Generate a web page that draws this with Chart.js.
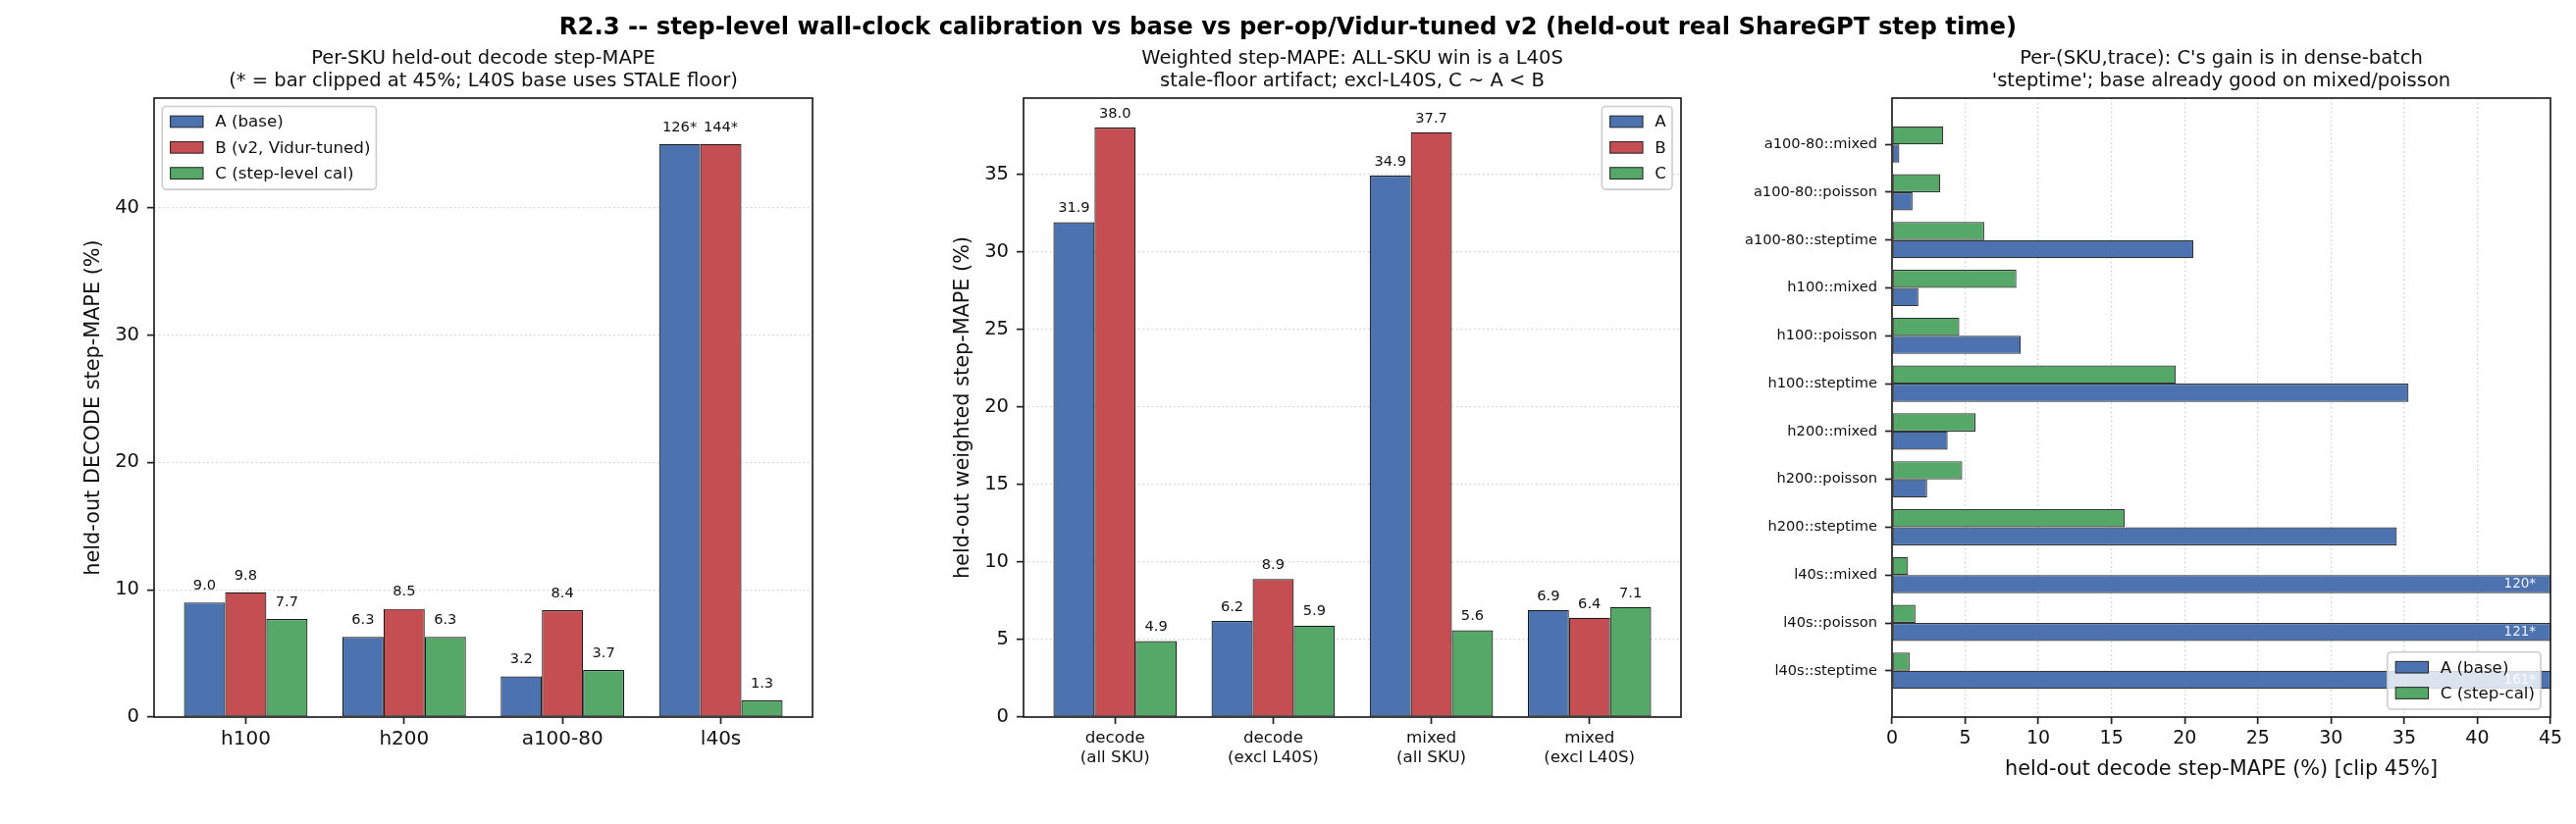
<!DOCTYPE html>
<html>
<head>
<meta charset="utf-8">
<script src="https://cdn.jsdelivr.net/npm/chart.js@4.4.1/dist/chart.umd.min.js"></script>
<style>
  html, body { margin: 0; padding: 0; background: #fff; }
  body { width: 2625px; height: 840px; position: relative; overflow: hidden; font-family: "DejaVu Sans", sans-serif; }
  #suptitle { position: absolute; left: 0; top: 12px; width: 2625px; text-align: center; font-weight: bold; font-size: 24.3px; line-height: 30px; color: #000; z-index: 2; }
  canvas { position: absolute; top: 0; }
</style>
</head>
<body>
<div id="suptitle">R2.3 -- step-level wall-clock calibration vs base vs per-op/Vidur-tuned v2 (held-out real ShareGPT step time)</div>
<canvas id="skuChart" width="875" height="840" style="left:0"></canvas>
<canvas id="weightedChart" width="875" height="840" style="left:875px"></canvas>
<canvas id="traceChart" width="875" height="840" style="left:1750px"></canvas>
<script>
// bars above this are drawn clipped and labelled "NNN*"
const CLIP = 45;

// Panel 1: per-SKU decode step-MAPE
const skuLabels = ['h100', 'h200', 'a100-80', 'l40s'];
const skuA = [9.0, 6.3, 3.2, 126];
const skuB = [9.8, 8.5, 8.4, 144];
const skuC = [7.7, 6.3, 3.7, 1.3];
const skuYTicks = [0, 10, 20, 30, 40];

// Panel 2: weighted step-MAPE
const wLabels = ['decode\n(all SKU)', 'decode\n(excl L40S)', 'mixed\n(all SKU)', 'mixed\n(excl L40S)'];
const wA = [31.9, 6.2, 34.9, 6.9];
const wB = [38.0, 8.9, 37.7, 6.4];
const wC = [4.9, 5.9, 5.6, 7.1];
const wYTicks = [0, 5, 10, 15, 20, 25, 30, 35];

// Panel 3: per (SKU, trace)
const traceLabels = [
  'a100-80::mixed', 'a100-80::poisson', 'a100-80::steptime',
  'h100::mixed', 'h100::poisson', 'h100::steptime',
  'h200::mixed', 'h200::poisson', 'h200::steptime',
  'l40s::mixed', 'l40s::poisson', 'l40s::steptime'
];
const traceA = [0.5, 1.4, 20.6, 1.8, 8.8, 35.3, 3.8, 2.4, 34.5, 120, 121, 161];
const traceC = [3.5, 3.3, 6.3, 8.5, 4.6, 19.4, 5.7, 4.8, 15.9, 1.1, 1.6, 1.2];
const traceXTicks = [0, 5, 10, 15, 20, 25, 30, 35, 40, 45];

const BLUE = '#4C72B0', RED = '#C44E52', GREEN = '#55A868';
const INK = '#111', SPINE = '#222', GRID = '#d3d3d3';

Chart.defaults.font.family = "'DejaVu Sans', sans-serif";
Chart.defaults.color = INK;

function vertPoints(vals) {
  return vals.map((v, i) => ({ x: i, y: Math.min(v, CLIP) }));
}
function horizPoints(vals) {
  return vals.map((v, i) => ({ x: Math.min(v, CLIP), y: i }));
}
function fixTicks(list) {
  return s => { s.ticks = list.map(v => ({ value: v })); };
}

// black frame round the plot area (all four spines)
const frame = {
  id: 'frame',
  afterDatasetsDraw(chart) {
    const { ctx, chartArea: a } = chart;
    ctx.save();
    ctx.strokeStyle = SPINE;
    ctx.lineWidth = 1.7;
    ctx.strokeRect(a.left, a.top, a.width, a.height);
    ctx.restore();
  }
};

// value labels over the bars; clipped bars get "NNN*"
const barLabels = {
  id: 'barLabels',
  afterDatasetsDraw(chart, args, opts) {
    const { ctx } = chart;
    ctx.save();
    ctx.font = opts.size + "px 'DejaVu Sans'";
    opts.raw.forEach((vals, di) => {
      const meta = chart.getDatasetMeta(di);
      meta.data.forEach((el, i) => {
        const v = vals[i];
        const clipped = v > CLIP;
        if (opts.inside) {
          if (!clipped) return;
          ctx.fillStyle = 'rgba(255,255,255,0.9)';
          ctx.textAlign = 'right';
          ctx.textBaseline = 'middle';
          ctx.fillText(Math.round(v) + '*', chart.scales.x.getPixelForValue(CLIP - 1), el.y);
        } else {
          ctx.fillStyle = INK;
          ctx.textAlign = 'center';
          ctx.textBaseline = 'middle';
          ctx.fillText(clipped ? Math.round(v) + '*' : v.toFixed(1), el.x, el.y - opts.gap);
        }
      });
    });
    ctx.restore();
  }
};

// matplotlib-style legend box inside the axes
const boxLegend = {
  id: 'boxLegend',
  afterDraw(chart, args, opts) {
    const { ctx, chartArea: a } = chart;
    const fs = 16.7, row = 26.3, hw = 33.4, hh = 11.7;
    ctx.save();
    ctx.font = fs + "px 'DejaVu Sans'";
    const tw = Math.max(...opts.items.map(it => ctx.measureText(it.label).width));
    const w = 8.3 + hw + 12.3 + tw + 6;
    const h = 32 + row * (opts.items.length - 1);
    let x = a.left + 8.3, y = a.top + 8.5;
    if (opts.corner === 'tr') x = a.right - 9 - w;
    if (opts.corner === 'br') { x = a.right - 10 - w; y = a.bottom - 8 - h; }
    ctx.beginPath();
    ctx.roundRect(x, y, w, h, 4);
    ctx.fillStyle = 'rgba(255,255,255,0.8)';
    ctx.fill();
    ctx.strokeStyle = '#cccccc';
    ctx.lineWidth = 1.6;
    ctx.stroke();
    opts.items.forEach((it, i) => {
      const cy = y + 15.5 + i * row;
      ctx.fillStyle = it.color;
      ctx.fillRect(x + 8.3, cy - hh / 2, hw, hh);
      ctx.strokeStyle = SPINE;
      ctx.lineWidth = 1;
      ctx.strokeRect(x + 8.3, cy - hh / 2, hw, hh);
      ctx.fillStyle = INK;
      ctx.textAlign = 'left';
      ctx.textBaseline = 'middle';
      ctx.fillText(it.label, x + 8.3 + hw + 12.3, cy + 1);
    });
    ctx.restore();
  }
};

function subTitle(lines) {
  return {
    display: true, text: lines, fullSize: false, color: INK,
    font: { size: 19.5, weight: 'normal', lineHeight: 1.2 },
    padding: { top: 48.3, bottom: 4.9 }
  };
}

function barSet(label, vals, color, edge) {
  return {
    label: label, data: vertPoints(vals), backgroundColor: color,
    borderColor: edge || '#1a1a1a', borderWidth: 1.2, borderSkipped: false, inflateAmount: 0,
    categoryPercentage: 0.78, barPercentage: 1.0
  };
}

function groupedOptions(cfg) {
  return {
    responsive: false, maintainAspectRatio: false, animation: false, events: [],
    layout: { padding: { left: 0, right: cfg.padRight, top: 0, bottom: 0 } },
    plugins: {
      legend: { display: false },
      tooltip: { enabled: false },
      title: subTitle(cfg.title),
      barLabels: { raw: cfg.raw, gap: cfg.gap, size: 14.6 },
      boxLegend: { corner: cfg.corner, items: cfg.legend }
    },
    scales: {
      x: {
        type: 'linear', min: -0.579, max: 3.579, offset: false,
        afterBuildTicks: fixTicks(cfg.labels.map((_, i) => i)),
        ticks: {
          callback: v => cfg.labels[v].split('\n'),
          font: { size: cfg.xFont }, color: INK, padding: cfg.xPad, maxRotation: 0, autoSkip: false
        },
        grid: { offset: false, drawOnChartArea: false, tickLength: 7, tickWidth: 1.7, tickColor: SPINE },
        border: { display: false },
        afterFit: s => { s.height = 109; }
      },
      y: {
        min: 0, max: cfg.yMax,
        afterBuildTicks: fixTicks(cfg.yTicks),
        ticks: { font: { size: 19.5 }, color: INK, padding: 8 },
        grid: { color: GRID, lineWidth: 1.3, tickLength: 7, tickWidth: 1.7, tickColor: SPINE, tickBorderDash: [] },
        border: { display: false, dash: [1.7, 2.8] },
        title: { display: true, text: cfg.yTitle, color: INK, font: { size: 20.8 }, padding: { top: cfg.yTitlePad } },
        afterFit: s => { s.width = cfg.yWidth; }
      }
    }
  };
}

new Chart(document.getElementById('skuChart'), {
  type: 'bar',
  data: {
    datasets: [
      barSet('A (base)', skuA, BLUE),
      barSet('B (v2, Vidur-tuned)', skuB, RED),
      barSet('C (step-level cal)', skuC, GREEN)
    ]
  },
  options: groupedOptions({
    title: ['Per-SKU held-out decode step-MAPE', '(* = bar clipped at 45%; L40S base uses STALE floor)'],
    labels: skuLabels, raw: [skuA, skuB, skuC], gap: 17,
    yMax: 48.6, yTicks: skuYTicks, yTitle: 'held-out DECODE step-MAPE (%)',
    yWidth: 157, yTitlePad: 83.5, padRight: 47, xFont: 20, xPad: 4,
    corner: 'tl',
    legend: [
      { label: 'A (base)', color: BLUE },
      { label: 'B (v2, Vidur-tuned)', color: RED },
      { label: 'C (step-level cal)', color: GREEN }
    ]
  }),
  plugins: [barLabels, frame, boxLegend]
});

new Chart(document.getElementById('weightedChart'), {
  type: 'bar',
  data: {
    datasets: [
      barSet('A', wA, BLUE),
      barSet('B', wB, RED),
      barSet('C', wC, GREEN)
    ]
  },
  options: groupedOptions({
    title: ['Weighted step-MAPE: ALL-SKU win is a L40S', 'stale-floor artifact; excl-L40S, C ~ A < B'],
    labels: wLabels, raw: [wA, wB, wC], gap: 14,
    yMax: 39.9, yTicks: wYTicks, yTitle: 'held-out weighted step-MAPE (%)',
    yWidth: 168, yTitlePad: 94, padRight: 37, xFont: 16.7, xPad: 5,
    corner: 'tr',
    legend: [
      { label: 'A', color: BLUE },
      { label: 'B', color: RED },
      { label: 'C', color: GREEN }
    ]
  }),
  plugins: [barLabels, frame, boxLegend]
});

// C listed first so it sits above A in each row
new Chart(document.getElementById('traceChart'), {
  type: 'bar',
  data: {
    datasets: [
      { label: 'C (step-cal)', data: horizPoints(traceC), backgroundColor: GREEN, borderColor: '#333',
        borderWidth: 1.2, borderSkipped: false, inflateAmount: 0, categoryPercentage: 0.76, barPercentage: 1.0 },
      { label: 'A (base)', data: horizPoints(traceA), backgroundColor: BLUE, borderColor: '#333',
        borderWidth: 1.2, borderSkipped: false, inflateAmount: 0, categoryPercentage: 0.76, barPercentage: 1.0 }
    ]
  },
  options: {
    indexAxis: 'y',
    responsive: false, maintainAspectRatio: false, animation: false, events: [],
    layout: { padding: { left: 0, right: 26, top: 0, bottom: 0 } },
    plugins: {
      legend: { display: false },
      tooltip: { enabled: false },
      title: subTitle(["Per-(SKU,trace): C's gain is in dense-batch", "'steptime'; base already good on mixed/poisson"]),
      barLabels: { raw: [traceC, traceA], inside: true, size: 13.5 },
      boxLegend: { corner: 'br', items: [{ label: 'A (base)', color: BLUE }, { label: 'C (step-cal)', color: GREEN }] }
    },
    scales: {
      x: {
        type: 'linear', min: 0, max: CLIP,
        afterBuildTicks: fixTicks(traceXTicks),
        ticks: { font: { size: 19 }, color: INK, padding: 4, maxRotation: 0 },
        grid: { color: GRID, lineWidth: 1.3, tickLength: 7, tickWidth: 1.7, tickColor: SPINE, tickBorderDash: [] },
        border: { display: false, dash: [1.7, 2.8] },
        title: { display: true, text: 'held-out decode step-MAPE (%) [clip 45%]', color: INK, font: { size: 20.8 }, padding: { bottom: 43 } },
        afterFit: s => { s.height = 109; }
      },
      y: {
        type: 'linear', min: -0.968, max: 11.968, reverse: true, offset: false,
        afterBuildTicks: fixTicks(traceLabels.map((_, i) => i)),
        ticks: { callback: v => traceLabels[v], font: { size: 14.6 }, color: INK, padding: 8, autoSkip: false },
        grid: { offset: false, drawOnChartArea: false, tickLength: 7, tickWidth: 1.7, tickColor: SPINE },
        border: { display: false },
        afterFit: s => { s.width = 178; }
      }
    }
  },
  plugins: [barLabels, frame, boxLegend]
});
</script>
</body>
</html>
